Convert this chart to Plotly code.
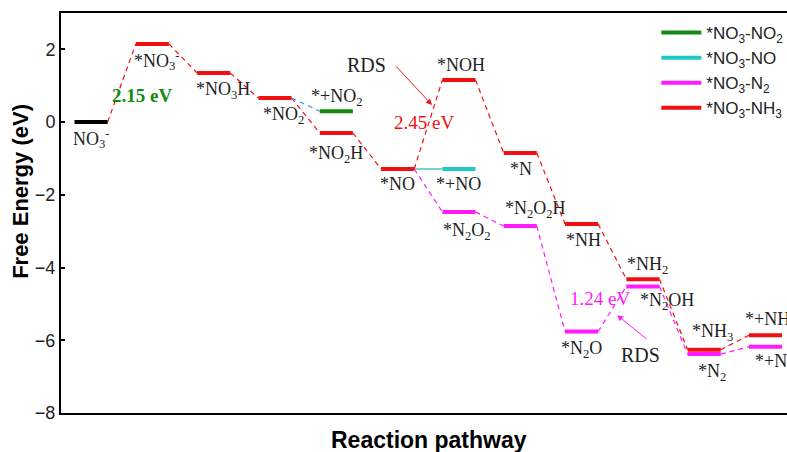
import plotly.graph_objects as go

# ---------------- data ----------------
start_x = [0]
start_E = [0.0]
start_lbl = ["NO<sub>3</sub><sup>-</sup>"]

nh3_x = [1, 2, 3, 4, 5, 6, 7, 8, 9, 10, 11]
nh3_E = [2.15, 1.35, 0.66, -0.30, -1.29, 1.16, -0.85, -2.80, -4.32, -6.26, -5.86]
nh3_lbl = ["*NO<sub>3</sub><sup>-</sup>", "*NO<sub>3</sub>H", "*NO<sub>2</sub>", "*NO<sub>2</sub>H",
           "*NO", "*NOH", "*N", "*NH", "*NH<sub>2</sub>", "*NH<sub>3</sub>", "*+NH<sub>3</sub>"]

n2_x = [6, 7, 8, 9, 10, 11]
n2_E = [-2.47, -2.86, -5.76, -4.52, -6.38, -6.18]
n2_lbl = ["*N<sub>2</sub>O<sub>2</sub>", "*N<sub>2</sub>O<sub>2</sub>H", "*N<sub>2</sub>O",
          "*N<sub>2</sub>OH", "*N<sub>2</sub>", "*+N<sub>2</sub>"]

no2_x = [4]
no2_E = [0.30]
no2_lbl = ["*+NO<sub>2</sub>"]

no_x = [6]
no_E = [-1.29]
no_lbl = ["*+NO"]

legend_names = ["*NO<sub>3</sub>-NO<sub>2</sub>", "*NO<sub>3</sub>-NO",
                "*NO<sub>3</sub>-N<sub>2</sub>", "*NO<sub>3</sub>-NH<sub>3</sub>"]

y_ticks = [-8, -6, -4, -2, 0, 2]

# ---------------- styles ----------------
RED = "#f01010"
MAG = "#ff1aff"
GRN = "#128a12"
CYN = "#1fc8c8"
BLU = "#3a9ee0"
TEAL = "#2bb59c"
HW = 0.27  # half width of a level (x units)

# label offsets (px)
start_sh = [(0, -16)]
nh3_sh = [(5, -17), (9, -17), (8, -17), (0, -21), (0, -15), (2, 15), (1, -16), (2, -16), (5, 14), (8, 17), (5, 15)]
n2_sh = [(8, -20), (15, 17), (0, -18), (24, -15), (8, -18), (8, -16)]
no2_sh = [(0, 14)]
no_sh = [(0, -15)]


def levels(xs, es):
    X, Y = [], []
    for x, e in zip(xs, es):
        X += [x - HW, x + HW, None]
        Y += [e, e, None]
    return X, Y


def connectors(xs, es):
    X, Y = [], []
    for i in range(len(xs) - 1):
        X += [xs[i] + HW, xs[i + 1] - HW, None]
        Y += [es[i], es[i + 1], None]
    return X, Y


fig = go.Figure()

# connectors
cx, cy = connectors(start_x + nh3_x, start_E + nh3_E)
fig.add_trace(go.Scatter(x=cx, y=cy, mode="lines", line=dict(color=RED, width=1.2, dash="5px,4px"),
                         showlegend=False, hoverinfo="skip"))
cx, cy = connectors([nh3_x[4]] + n2_x, [nh3_E[4]] + n2_E)
fig.add_trace(go.Scatter(x=cx, y=cy, mode="lines", line=dict(color=MAG, width=1.2, dash="5px,4px"),
                         showlegend=False, hoverinfo="skip"))
cx, cy = connectors([nh3_x[2]] + no2_x, [nh3_E[2]] + no2_E)
fig.add_trace(go.Scatter(x=cx, y=cy, mode="lines", line=dict(color=BLU, width=1.2, dash="5px,4px"),
                         showlegend=False, hoverinfo="skip"))
cx, cy = connectors([nh3_x[4]] + no_x, [nh3_E[4]] + no_E)
fig.add_trace(go.Scatter(x=cx, y=cy, mode="lines", line=dict(color=TEAL, width=1.2),
                         showlegend=False, hoverinfo="skip"))

# levels
lx, ly = levels(start_x, start_E)
fig.add_trace(go.Scatter(x=lx, y=ly, mode="lines", line=dict(color="black", width=4),
                         showlegend=False, hoverinfo="skip"))
for xs, es, col, name in [(no2_x, no2_E, GRN, legend_names[0]),
                          (no_x, no_E, CYN, legend_names[1]),
                          (n2_x, n2_E, MAG, legend_names[2]),
                          (nh3_x, nh3_E, RED, legend_names[3])]:
    lx, ly = levels(xs, es)
    fig.add_trace(go.Scatter(x=lx, y=ly, mode="lines", line=dict(color=col, width=4),
                             name=name, hoverinfo="skip"))

# level labels
LFONT = dict(family="Liberation Serif", size=18, color="#222222")
for xs, es, lbls, shs in [(start_x, start_E, start_lbl, start_sh),
                          (nh3_x, nh3_E, nh3_lbl, nh3_sh),
                          (n2_x, n2_E, n2_lbl, n2_sh),
                          (no2_x, no2_E, no2_lbl, no2_sh),
                          (no_x, no_E, no_lbl, no_sh)]:
    for x, e, t, (dx, dy) in zip(xs, es, lbls, shs):
        fig.add_annotation(x=x, y=e, text=t, showarrow=False, xshift=dx, yshift=dy, font=LFONT)

# energy annotations
SFONT = "Liberation Serif"
fig.add_annotation(x=0.83, y=0.74, text="<b>2.15 eV</b>", showarrow=False,
                   font=dict(family=SFONT, size=19, color=GRN))
fig.add_annotation(x=5.43, y=0.0, text="2.45 eV", showarrow=False,
                   font=dict(family=SFONT, size=19, color=RED))
fig.add_annotation(x=8.30, y=-4.84, text="1.24 eV", showarrow=False,
                   font=dict(family=SFONT, size=19, color=MAG))
fig.add_annotation(x=4.50, y=1.57, text="RDS", showarrow=False,
                   font=dict(family=SFONT, size=20, color="#222222"))
fig.add_annotation(x=8.96, y=-6.41, text="RDS", showarrow=False,
                   font=dict(family=SFONT, size=20, color="#222222"))
# arrows
fig.add_annotation(x=5.56, y=0.47, text="", showarrow=True, ax=-37, ay=-40,
                   arrowhead=2, arrowsize=1.2, arrowwidth=1, arrowcolor=RED)
fig.add_annotation(x=8.58, y=-5.31, text="", showarrow=True, ax=31, ay=25,
                   arrowhead=2, arrowsize=1.2, arrowwidth=1, arrowcolor=MAG)

# axis titles as annotations
fig.add_annotation(xref="paper", yref="paper", x=-0.055, y=0.553, text="<b>Free Energy (eV)</b>",
                   textangle=-90, showarrow=False, xanchor="center", yanchor="middle",
                   font=dict(family="Liberation Sans", size=22, color="black"))
fig.add_annotation(xref="paper", yref="paper", x=0.507, y=-0.068, text="<b>Reaction pathway</b>",
                   showarrow=False, xanchor="center", yanchor="middle",
                   font=dict(family="Liberation Sans", size=23, color="black"))

fig.update_layout(
    width=787, height=452,
    margin=dict(l=61, r=0, t=13, b=39, autoexpand=False),
    plot_bgcolor="white", paper_bgcolor="white",
    showlegend=True,
    legend=dict(x=0.82, y=0.995, xanchor="left", yanchor="top", bgcolor="rgba(0,0,0,0)",
                font=dict(family="Liberation Sans", size=17, color="#222222"),
                tracegroupgap=0, itemwidth=40),
    xaxis=dict(range=[-0.49, 11.35], showgrid=False, zeroline=False, showticklabels=False,
               ticks="", showline=True, linecolor="black", linewidth=2, mirror=True),
    yaxis=dict(range=[-8, 3], tickvals=y_ticks, showgrid=False, zeroline=False,
               ticks="inside", ticklen=4, tickwidth=1.5, tickcolor="black",
               showline=True, linecolor="black", linewidth=2,
               tickfont=dict(family="Liberation Sans", size=18, color="#222222")),
)

fig.write_html("out.html", config={"displayModeBar": False},
               post_script="document.body.style.margin='0';document.body.style.overflow='hidden';")
